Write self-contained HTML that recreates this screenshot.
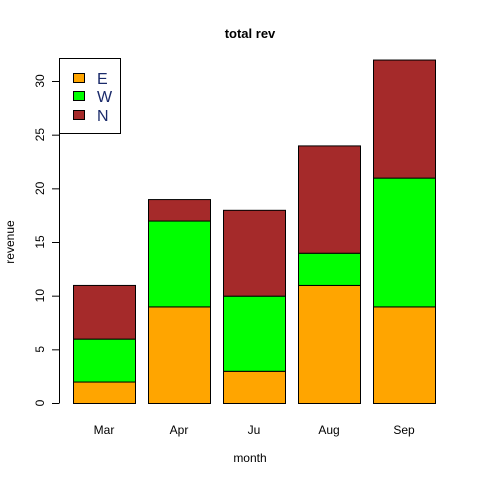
<!DOCTYPE html>
<html><head><style>body{margin:0;background:#fff}svg{display:block}text{font-family:"Liberation Sans",sans-serif}</style></head>
<body>
<svg id="c" width="480" height="480">
<text x="250" y="38" text-anchor="middle" font-weight="bold" font-size="13">total rev</text>
<text x="250" y="462" text-anchor="middle" font-size="12">month</text>
<text transform="translate(14,242) rotate(-90)" text-anchor="middle" font-size="12">revenue</text>
<g id="bars"></g><g id="yaxis"></g><g id="xlabels"></g>
<g>
<rect x="59.5" y="58.5" width="61" height="75" fill="#fff" stroke="#000"/>
<rect x="73.5" y="73.5" width="11" height="9" fill="#FFA500" stroke="#000"/>
<rect x="73.5" y="91.5" width="11" height="9" fill="#00FF00" stroke="#000"/>
<rect x="73.5" y="110.5" width="11" height="9" fill="#A52A2A" stroke="#000"/>
<text x="97" y="84" font-size="16" fill="#1a2a6a">E</text>
<text x="97" y="102" font-size="16" fill="#1a2a6a">W</text>
<text x="97" y="121" font-size="16" fill="#1a2a6a">N</text>
</g>
</svg>
<script>
const categories=["Mar","Apr","Ju","Aug","Sep"];
const seriesE=[2,9,3,11,9];
const seriesW=[4,8,7,3,12];
const seriesN=[5,2,8,10,11];
const yTicks=[0,5,10,15,20,25,30];
const NS="http://www.w3.org/2000/svg";
const y=v=>403-v*10.733;
const x=i=>73+i*75;
function mk(t,a,p){const e=document.createElementNS(NS,t);for(const k in a)e.setAttribute(k,a[k]);p.appendChild(e);return e;}
const bars=document.getElementById('bars');
const series=[[seriesE,"#FFA500","e"],[seriesW,"#00FF00","w"],[seriesN,"#A52A2A","n"]];
categories.forEach((c,i)=>{let base=0;series.forEach(([s,col,n])=>{const v=s[i];
const r=mk('rect',{x:x(i)+0.5,y:y(base+v)+0.5,width:62,height:y(base)-y(base+v),fill:col,stroke:"#000"},bars);


base+=v;});
const t=mk('text',{x:x(i)+31,y:434,"text-anchor":"middle","font-size":"12"},document.getElementById('xlabels'));t.textContent=c;

});
const ya=document.getElementById('yaxis');
const ax=mk('line',{x1:59.5,x2:59.5,y1:y(0),y2:y(30),stroke:"#000"},ya);


yTicks.forEach(v=>{const tk=mk('line',{x1:52,x2:59.5,y1:y(v)+0.5,y2:y(v)+0.5,stroke:"#000"},ya);


const t=mk('text',{transform:`translate(44,${y(v)}) rotate(-90)`,"text-anchor":"middle","font-size":"12"},ya);t.textContent=v;

});
</script>
</body></html>
